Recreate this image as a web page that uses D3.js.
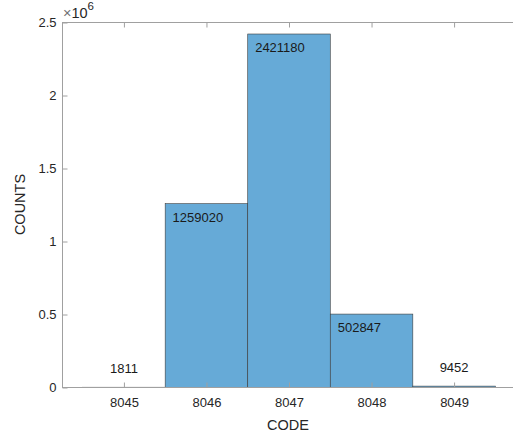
<!DOCTYPE html>
<html><head><meta charset="utf-8">
<script src="https://cdn.jsdelivr.net/npm/d3@7"></script>
<style>body{margin:0;background:#fff}text{font-family:"Liberation Sans",Arial,sans-serif}</style>
</head><body><div id="chart"></div>
<script>
const codes = [8045, 8046, 8047, 8048, 8049];
const counts = [1811, 1259020, 2421180, 502847, 9452];
const yTicks = [0, 0.5e6, 1e6, 1.5e6, 2e6, 2.5e6];
const yTickLabels = ["0", "0.5", "1", "1.5", "2", "2.5"];

const W = 513, H = 432;
const m = {left: 62, top: 22, right: 516, bottom: 387};
const svg = d3.select("#chart").append("svg").attr("width", W).attr("height", H);

const x = d3.scaleLinear().domain([8044.25, 8049.75]).range([m.left, m.right]);
const y = d3.scaleLinear().domain([0, 2.5e6]).range([m.bottom + 0.5, m.top + 0.5]);

const txt = "#262626", axc = "#a0a0a0";

// bars
svg.append("g").selectAll("rect").data(codes).join("rect")
  .attr("x", d => x(d - 0.5))
  .attr("width", d => x(d + 0.5) - x(d - 0.5))
  .attr("y", (d, i) => y(counts[i]))
  .attr("height", (d, i) => y(0) - y(counts[i]))
  .attr("fill", "#66aad7")
  .attr("stroke", "#3c3c3c")
  .attr("stroke-width", 0.6);

// axes box
const box = svg.append("g").attr("fill", "none").attr("stroke", axc).attr("stroke-width", 1);
box.append("line").attr("x1", m.left).attr("x2", m.right).attr("y1", m.top + 0.5).attr("y2", m.top + 0.5);
box.append("line").attr("x1", m.left).attr("x2", m.right).attr("y1", m.bottom + 0.5).attr("y2", m.bottom + 0.5);
box.append("line").attr("x1", m.left + 0.5).attr("x2", m.left + 0.5).attr("y1", m.top).attr("y2", m.bottom);

// x axis (bottom, inward ticks)
const xAxis = d3.axisBottom(x).tickValues(codes).tickFormat(d3.format("d")).tickSizeInner(-5).tickSizeOuter(0).tickPadding(10);
const gx = svg.append("g").attr("transform", `translate(0,${m.bottom + 0.5})`).call(xAxis);
gx.select(".domain").remove();
gx.selectAll("line").attr("stroke", axc);
gx.selectAll("text").attr("fill", txt).attr("font-size", 13);
// top ticks
const gxt = svg.append("g").attr("transform", `translate(0,${m.top + 0.5})`)
  .call(d3.axisTop(x).tickValues(codes).tickSizeInner(-5).tickSizeOuter(0).tickFormat(""));
gxt.select(".domain").remove();
gxt.selectAll("line").attr("stroke", axc);

// y axis
const yAxis = d3.axisLeft(y).tickValues(yTicks).tickFormat((d, i) => yTickLabels[i]).tickSizeInner(-5).tickSizeOuter(0).tickPadding(6);
const gy = svg.append("g").attr("transform", `translate(${m.left + 0.5},0)`).call(yAxis);
gy.select(".domain").remove();
gy.selectAll("line").attr("stroke", axc);
gy.selectAll("text").attr("fill", txt).attr("font-size", 13);

// exponent
const ex = svg.append("text").attr("x", m.left + 1).attr("y", 18).attr("fill", txt).attr("font-size", 14.5);
ex.append("tspan").attr("fill", "#707070").text("×");
ex.append("tspan").text("10");
ex.append("tspan").attr("dy", -8).attr("font-size", 11.5).text("6");

// axis labels
svg.append("text").attr("x", 288).attr("y", 430).attr("text-anchor", "middle")
  .attr("fill", txt).attr("font-size", 14.5).text("CODE");
svg.append("text").attr("transform", `translate(25,${(m.top + m.bottom) / 2}) rotate(-90)`)
  .attr("text-anchor", "middle").attr("fill", txt).attr("font-size", 14.5).text("COUNTS");

// value labels
const big = 1e5;
svg.append("g").selectAll("text").data(codes).join("text")
  .attr("fill", "#1a1a1a").attr("font-size", 13)
  .attr("text-anchor", (d, i) => counts[i] > big ? "start" : "middle")
  .attr("x", (d, i) => counts[i] > big ? x(d - 0.41) : x(d))
  .attr("y", (d, i) => counts[i] > big ? y(counts[i]) + 18 : y(counts[i] + 95000))
  .text((d, i) => counts[i]);
</script></body></html>
